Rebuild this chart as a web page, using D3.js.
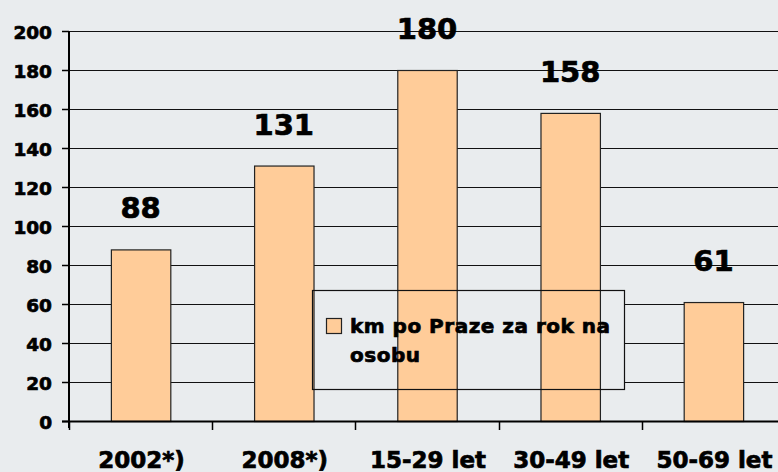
<!DOCTYPE html>
<html>
<head>
<meta charset="utf-8">
<script src="https://cdn.jsdelivr.net/npm/d3@7"></script>
<style>
  html, body { margin: 0; padding: 0; background: #e9ecee; }
  svg { display: block; }
  text { font-family: "DejaVu Sans", Verdana, sans-serif; font-weight: bold; fill: #000; stroke: #000; stroke-width: 0.7px; }
</style>
</head>
<body>
<svg id="chart" width="778" height="472"></svg>
<script>
const categories = ["2002*)", "2008*)", "15-29 let", "30-49 let", "50-69 let"];
const values = [88, 131, 180, 158, 61];
const yTicks = [0, 20, 40, 60, 80, 100, 120, 140, 160, 180, 200];
const legendLines = ["km po Praze za rok na", "osobu"];

const W = 778, H = 472;
const svg = d3.select("#chart");
svg.append("rect").attr("width", W).attr("height", H).attr("fill", "#e9ecee");

const x = d3.scaleBand().domain(categories).range([69, 785]).paddingInner(0.585).paddingOuter(0.2925);
const y = d3.scaleLinear().domain([0, 200]).range([421, 31]);

// gridlines
svg.append("g").selectAll("line").data(yTicks.filter(d => d > 0)).join("line")
  .attr("x1", 69).attr("x2", W)
  .attr("y1", d => Math.round(y(d)) + 0.5).attr("y2", d => Math.round(y(d)) + 0.5)
  .attr("stroke", "#111").attr("stroke-width", 1.2);

// legend fill (over gridlines, under bars)
const lg = { x: 312, y: 290, w: 312, h: 99 };
svg.append("rect").attr("x", lg.x + 0.5).attr("y", lg.y + 0.5).attr("width", lg.w).attr("height", lg.h)
  .attr("fill", "#e9ecee");

// bars
svg.append("g").selectAll("rect").data(values).join("rect")
  .attr("x", (d, i) => x(categories[i]) + 0.5)
  .attr("y", d => y(d) + 0.5)
  .attr("width", x.bandwidth())
  .attr("height", d => y(0) - y(d))
  .attr("fill", "#ffcc99").attr("stroke", "#222").attr("stroke-width", 1.2);

// legend border (over bars)
svg.append("rect").attr("x", lg.x + 0.5).attr("y", lg.y + 0.5).attr("width", lg.w).attr("height", lg.h)
  .attr("fill", "none").attr("stroke", "#111").attr("stroke-width", 1.2);

// value labels
svg.append("g").selectAll("text").data(values).join("text")
  .attr("x", (d, i) => x(categories[i]) + x.bandwidth() / 2)
  .attr("y", d => y(d) - 31)
  .attr("text-anchor", "middle").attr("font-size", 29)
  .text(d => d);

// y axis
const yAxis = svg.append("g");
yAxis.append("line").attr("x1", 69).attr("x2", 69).attr("y1", 31).attr("y2", 428)
  .attr("stroke", "#000").attr("stroke-width", 2);
yAxis.selectAll("line.tick").data(yTicks).join("line").attr("class", "tick")
  .attr("x1", 62).attr("x2", 69)
  .attr("y1", d => Math.round(y(d)) + 0.5).attr("y2", d => Math.round(y(d)) + 0.5)
  .attr("stroke", "#000").attr("stroke-width", 1.5);
yAxis.selectAll("text").data(yTicks).join("text")
  .attr("x", 52).attr("y", d => y(d) + 7.5)
  .attr("text-anchor", "end").attr("font-size", 18.5)
  .text(d => d);

// x axis
const xAxis = svg.append("g");
xAxis.append("line").attr("x1", 62).attr("x2", W).attr("y1", 421.5).attr("y2", 421.5)
  .attr("stroke", "#000").attr("stroke-width", 2);
const bounds = categories.map(c => x(c) - x.step() * x.paddingInner() / 2);
xAxis.selectAll("line.tick").data(bounds).join("line").attr("class", "tick")
  .attr("x1", d => Math.round(d) + 0.5).attr("x2", d => Math.round(d) + 0.5)
  .attr("y1", 421).attr("y2", 430)
  .attr("stroke", "#000").attr("stroke-width", 1.5);
xAxis.selectAll("text").data(categories).join("text")
  .attr("x", d => x(d) + x.bandwidth() / 2 + 1)
  .attr("y", 468)
  .attr("text-anchor", "middle").attr("font-size", 23)
  .text(d => d);

// legend content (over bars)
svg.append("rect").attr("x", 326.5).attr("y", 318.5).attr("width", 15).attr("height", 15)
  .attr("fill", "#ffcc99").attr("stroke", "#222").attr("stroke-width", 1.2);
svg.append("g").selectAll("text").data(legendLines).join("text")
  .attr("x", 350).attr("y", (d, i) => 333 + i * 29)
  .attr("font-size", 20).attr("letter-spacing", 0.5)
  .text(d => d);
</script>
</body>
</html>
